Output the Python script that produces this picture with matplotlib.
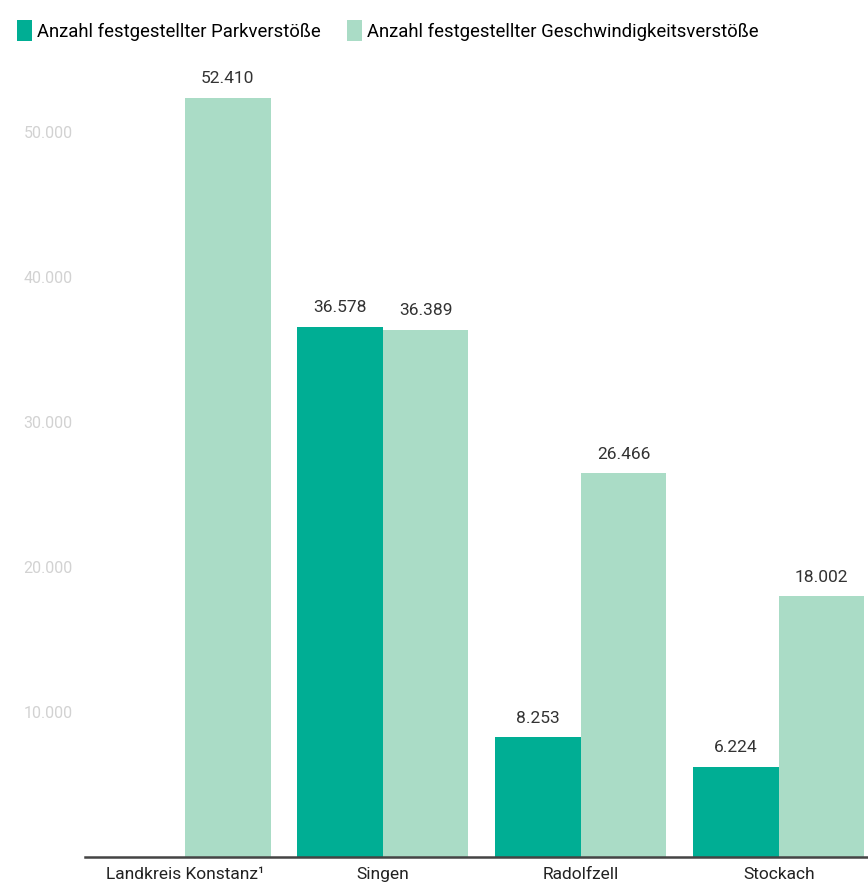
import matplotlib.pyplot as plt
import numpy as np

categories = ["Landkreis Konstanz¹", "Singen", "Radolfzell", "Stockach"]
park = [0, 36578, 8253, 6224]
speed = [52410, 36389, 26466, 18002]
park_labels = [None, "36.578", "8.253", "6.224"]
speed_labels = ["52.410", "36.389", "26.466", "18.002"]
yticks = [10000, 20000, 30000, 40000, 50000]
ytick_labels = ["10.000", "20.000", "30.000", "40.000", "50.000"]

dark = "#00ae94"
light = "#aadcc6"

plt.rcParams['font.family'] = ['Roboto', 'DejaVu Sans']

fig = plt.figure(figsize=(8.68, 8.86), dpi=100)
ax = fig.add_axes([85 / 868, 29 / 886, 1 - 85 / 868, 797 / 886])

x = np.arange(len(categories))
w = 0.432
b1 = ax.bar(x - w / 2, park, w, color=dark, label="Anzahl festgestellter Parkverstöße")
b2 = ax.bar(x + w / 2, speed, w, color=light, label="Anzahl festgestellter Geschwindigkeitsverstöße")

for i in range(len(categories)):
    if park_labels[i]:
        ax.text(x[i] - w / 2, park[i] + 800, park_labels[i], ha='center', va='bottom',
                fontsize=12.5, color="#333333")
    ax.text(x[i] + w / 2, speed[i] + 800, speed_labels[i], ha='center', va='bottom',
            fontsize=12.5, color="#333333")

ax.set_xlim(-0.505, 3.45)
ax.set_ylim(0, 55000)
ax.set_yticks(yticks)
ax.set_yticklabels(ytick_labels, fontsize=11.5, color="#d2d2d2")
ax.set_xticks(x)
ax.set_xticklabels(categories, fontsize=12.5, color="#222222")
ax.tick_params(axis='both', length=0)
ax.tick_params(axis='x', pad=7)
ax.tick_params(axis='y', pad=9)
for s in ['top', 'right', 'left']:
    ax.spines[s].set_visible(False)
ax.spines['bottom'].set_color("#444444")
ax.spines['bottom'].set_linewidth(1.8)

fig.legend(handles=[b1, b2], loc='upper left', bbox_to_anchor=(0.0, 0.996), ncol=2,
           frameon=False, fontsize=13.3, handlelength=0.85, handleheight=1.35,
           handletextpad=0.25, columnspacing=1.4)

fig.savefig("out.png", dpi=100)
